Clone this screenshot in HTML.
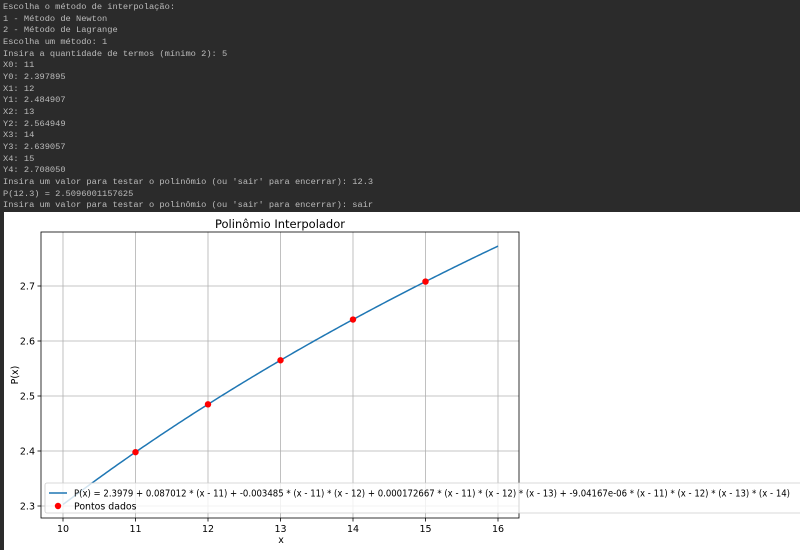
<!DOCTYPE html>
<html><head><meta charset="utf-8"><style>
body{margin:0;width:800px;height:550px;background:#2b2b2b;overflow:hidden;position:relative}
#console{position:absolute;left:3px;top:2px;font-family:"Liberation Mono",monospace;font-size:8.7px;line-height:11.65px;color:#bbbbbb;white-space:pre}
#panel{position:absolute;left:4px;top:212px;width:796px;height:338px;background:#fff}
svg text{font-family:"DejaVu Sans","Liberation Sans",sans-serif}
</style></head><body>
<div id="console">Escolha o método de interpolação:
1 - Método de Newton
2 - Método de Lagrange
Escolha um método: 1
Insira a quantidade de termos (mínimo 2): 5
X0: 11
Y0: 2.397895
X1: 12
Y1: 2.484907
X2: 13
Y2: 2.564949
X3: 14
Y3: 2.639057
X4: 15
Y4: 2.708050
Insira um valor para testar o polinômio (ou 'sair' para encerrar): 12.3
P(12.3) = 2.5096001157625
Insira um valor para testar o polinômio (ou 'sair' para encerrar): sair</div>
<div id="panel"></div>
<svg id="chart" width="800" height="550" style="position:absolute;left:0;top:0"></svg>
<script>
const xs=[11,12,13,14,15];
const ys=[2.397895,2.484907,2.564949,2.639057,2.708050];
const coefs=[2.3979,0.087012,-0.003485,0.000172667,-9.04167e-06];
const xTicks=[10,11,12,13,14,15,16];
const yTicks=[2.3,2.4,2.5,2.6,2.7];
const NS="http://www.w3.org/2000/svg";
const svg=document.getElementById('chart');
const L=41,R=519,T=232,B=518;
const sx=x=>63+(x-10)*72.5;
const sy=y=>506-(y-2.3)*550;
function mk(t,a,p){const e=document.createElementNS(NS,t);for(const k in a)e.setAttribute(k,a[k]);(p||svg).appendChild(e);return e;}
function P(x){let s=0,prod=1;for(let i=0;i<coefs.length;i++){s+=coefs[i]*prod;prod*=(x-xs[i]);}return s;}
xTicks.forEach(v=>{const g=mk('line',{x1:sx(v),x2:sx(v),y1:T,y2:B,stroke:'#b0b0b0','stroke-width':0.8});


const tk=mk('line',{x1:sx(v),x2:sx(v),y1:B,y2:B+3.5,stroke:'#000','stroke-width':0.8});


const t=mk('text',{x:sx(v),y:B+14,'font-size':9.5,'text-anchor':'middle',fill:'#000'});t.textContent=v;

});
yTicks.forEach(v=>{const g=mk('line',{x1:L,x2:R,y1:sy(v),y2:sy(v),stroke:'#b0b0b0','stroke-width':0.8});


const tk=mk('line',{x1:L-3.5,x2:L,y1:sy(v),y2:sy(v),stroke:'#000','stroke-width':0.8});


const t=mk('text',{x:L-6,y:sy(v)+3.5,'font-size':9.5,'text-anchor':'end',fill:'#000'});t.textContent=v.toFixed(1);

});
let d='';for(let i=0;i<=200;i++){const x=10+6*i/200;d+=(i?'L':'M')+sx(x).toFixed(2)+','+sy(P(x)).toFixed(2);}
const c=mk('path',{d:d,fill:'none',stroke:'#1f77b4','stroke-width':1.5});


xs.forEach((x,i)=>{const p=mk('circle',{cx:sx(x),cy:sy(ys[i]),r:3.2,fill:'red'});

});
const fr=mk('rect',{x:L,y:T,width:R-L,height:B-T,fill:'none',stroke:'#000','stroke-width':0.8});


const lg=mk('g',{});


mk('rect',{x:45,y:483,width:770,height:30,rx:2,fill:'#fff','fill-opacity':0.8,stroke:'#ccc','stroke-width':0.8},lg);
mk('line',{x1:49,x2:67,y1:493,y2:493,stroke:'#1f77b4','stroke-width':1.5},lg);
const t1=mk('text',{x:74,y:496.5,'font-size':9.4,fill:'#000',textLength:716,lengthAdjust:'spacingAndGlyphs'},lg);t1.textContent="P(x) = 2.3979 + 0.087012 * (x - 11) + -0.003485 * (x - 11) * (x - 12) + 0.000172667 * (x - 11) * (x - 12) * (x - 13) + -9.04167e-06 * (x - 11) * (x - 12) * (x - 13) * (x - 14)";


mk('circle',{cx:58,cy:506,r:3.2,fill:'red'},lg);
const t2=mk('text',{x:74,y:509.5,'font-size':9.4,fill:'#000'},lg);t2.textContent="Pontos dados";


const tt=mk('text',{x:280,y:228,'font-size':11.5,'text-anchor':'middle',fill:'#000'});tt.textContent="Polinômio Interpolador";


const xl=mk('text',{x:281,y:543,'font-size':9.5,'text-anchor':'middle',fill:'#000'});xl.textContent="x";


const yl=mk('text',{x:0,y:0,'font-size':9.5,'text-anchor':'middle',fill:'#000',transform:'translate(18,375) rotate(-90)'});yl.textContent="P(x)";


</script>
</body></html>
